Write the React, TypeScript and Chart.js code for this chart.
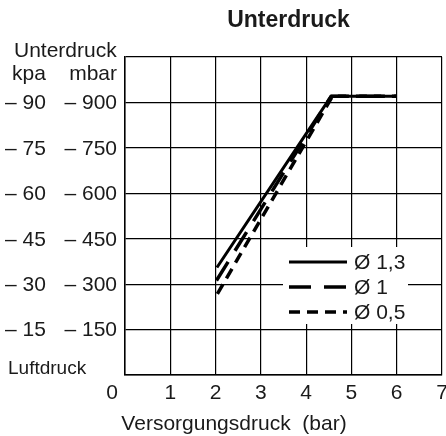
import { useEffect, useRef } from 'react';
import { Chart, registerables } from 'chart.js';

Chart.register(...registerables);

// ---- Data ----
const chartTitle = 'Unterdruck';
const yAxisTitle = 'Unterdruck';
const yUnitKpa = 'kpa';
const yUnitMbar = 'mbar';
const baselineLabel = 'Luftdruck';
const xAxisTitle = 'Versorgungsdruck  (bar)';

const xTickValues = [0, 1, 2, 3, 4, 5, 6, 7];
const xTickLabels = ['0', '1', '2', '3', '4', '5', '6', '7'];
const yTickValues = [150, 300, 450, 600, 750, 900];
const kpaLabels = ['– 15', '– 30', '– 45', '– 60', '– 75', '– 90'];
const mbarLabels = ['– 150', '– 300', '– 450', '– 600', '– 750', '– 900'];

const seriesLabels = ['Ø 1,3', 'Ø 1', 'Ø 0,5'];
const supply13 = [2.03, 4.55, 6.0];
const vacuum13 = [355, 920, 920];
const supply10 = [2.02, 4.55, 6.0];
const vacuum10 = [312, 920, 920];
const supply05 = [2.04, 4.58, 6.0];
const vacuum05 = [268, 920, 920];

const FONT = '"Liberation Sans", Arial, Helvetica, sans-serif';

const toPoints = (xs: number[], ys: number[]) => xs.map((x, i) => ({ x, y: ys[i] }));

const textPlugin = {
  id: 'textPlugin',
  afterDraw(chart: any) {
    const ctx = chart.ctx as CanvasRenderingContext2D;
    const xs = chart.scales.x;
    const ys = chart.scales.y;
    const a = chart.chartArea;
    ctx.save();
    ctx.fillStyle = '#1a1a1a';
    ctx.font = `bold 23px ${FONT}`;
    ctx.textAlign = 'center';
    ctx.textBaseline = 'alphabetic';
    ctx.fillText(chartTitle, (a.left + a.right) / 2 + 5, 27);
    ctx.font = `21px ${FONT}`;
    ctx.textAlign = 'left';
    ctx.fillText(yAxisTitle, 14, 57);
    ctx.fillText(yUnitKpa, 12, 80);
    ctx.textAlign = 'right';
    ctx.fillText(yUnitMbar, 117, 80);
    ctx.textBaseline = 'middle';
    yTickValues.forEach((v, i) => {
      const py = ys.getPixelForValue(v) + 1;
      ctx.textAlign = 'left';
      ctx.fillText(kpaLabels[i], 5, py);
      ctx.textAlign = 'right';
      ctx.fillText(mbarLabels[i], 117, py);
    });
    ctx.font = `19px ${FONT}`;
    ctx.textAlign = 'left';
    ctx.textBaseline = 'alphabetic';
    ctx.fillText(baselineLabel, 8, 374);
    ctx.font = `21px ${FONT}`;
    ctx.textAlign = 'center';
    xTickValues.forEach((v, i) => {
      const px = xs.getPixelForValue(v) + (i === 0 ? -13 : 0);
      ctx.fillText(xTickLabels[i], px, 399);
    });
    ctx.fillText(xAxisTitle, 234, 430);
    ctx.restore();
  },
};

const legendPlugin = {
  id: 'innerLegend',
  afterDatasetsDraw(chart: any) {
    const ctx = chart.ctx as CanvasRenderingContext2D;
    const a = chart.chartArea;
    ctx.save();
    ctx.fillStyle = '#ffffff';
    ctx.fillRect(a.right - 159, a.bottom - 128, 125, 77);
    chart.data.datasets.forEach((ds: any, i: number) => {
      const y = a.bottom - 113 + i * 25;
      ctx.beginPath();
      ctx.strokeStyle = ds.borderColor;
      ctx.lineWidth = ds.borderWidth;
      ctx.lineCap = 'butt';
      ctx.setLineDash(ds.borderDash || []);
      ctx.moveTo(a.right - 153, y);
      ctx.lineTo(a.right - 95, y);
      ctx.stroke();
      ctx.setLineDash([]);
      ctx.fillStyle = '#1a1a1a';
      ctx.font = `21px ${FONT}`;
      ctx.textAlign = 'left';
      ctx.textBaseline = 'middle';
      ctx.fillText(ds.label, a.right - 88, y + 1);
    });
    ctx.restore();
  },
};

export default function App() {
  const ref = useRef<HTMLCanvasElement | null>(null);
  useEffect(() => {
    if (!ref.current) return;
    const chart = new Chart(ref.current, {
      type: 'scatter',
      data: {
        datasets: [
          {
            label: seriesLabels[0],
            data: toPoints(supply13, vacuum13),
            showLine: true,
            borderColor: '#000000',
            borderWidth: 3,
            borderDash: [],
            pointRadius: 0,
            tension: 0,
            borderJoinStyle: 'round',
          },
          {
            label: seriesLabels[1],
            data: toPoints(supply10, vacuum10),
            showLine: true,
            borderColor: '#000000',
            borderWidth: 3.5,
            borderDash: [22, 13],
            pointRadius: 0,
            tension: 0,
            borderJoinStyle: 'round',
          },
          {
            label: seriesLabels[2],
            data: toPoints(supply05, vacuum05),
            showLine: true,
            borderColor: '#000000',
            borderWidth: 3.5,
            borderDash: [11, 7],
            pointRadius: 0,
            tension: 0,
            borderJoinStyle: 'round',
          },
        ],
      },
      options: {
        responsive: false,
        animation: false,
        devicePixelRatio: 1,
        layout: { padding: { left: 125, right: 4, top: 57, bottom: 61 } },
        plugins: { legend: { display: false }, title: { display: false }, tooltip: { enabled: false } },
        scales: {
          x: {
            type: 'linear',
            min: 0,
            max: 7,
            ticks: { display: false, stepSize: 1 },
            grid: { color: '#000', lineWidth: 1.2, drawTicks: false },
            border: { display: true, color: '#000', width: 1.5 },
          },
          y: {
            type: 'linear',
            min: 0,
            max: 1050,
            ticks: { display: false, stepSize: 150 },
            grid: { color: '#000', lineWidth: 1.2, drawTicks: false },
            border: { display: true, color: '#000', width: 1.5 },
          },
        },
      },
      plugins: [textPlugin, legendPlugin],
    } as any);
    return () => chart.destroy();
  }, []);
  return (
    <div style={{ position: 'fixed', left: 0, top: 0, width: 446, height: 436, background: '#fff' }}>
      <canvas ref={ref} width={446} height={436} />
    </div>
  );
}
